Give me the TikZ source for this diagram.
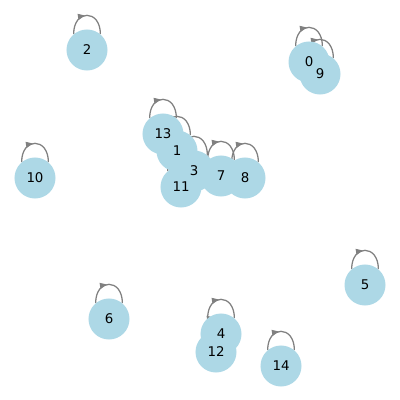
\documentclass[tikz,border=0pt]{standalone}
\usepackage{fontspec}
\setmainfont{DejaVu Sans}
\usetikzlibrary{arrows.meta, decorations.markings}
\definecolor{nodeblue}{HTML}{ADD8E6}
\definecolor{loopgray}{HTML}{808080}
\pgfdeclarelayer{background}
\pgfsetlayers{background,main}

\begin{document}
\begin{tikzpicture}[
    x=0.025cm, y=-0.025cm,
    vertex/.style={
        circle, fill=nodeblue, draw=none, minimum size=1.025cm, inner sep=0pt,
    },
    lab/.style={font=\fontsize{9.5}{11}\selectfont, text=black, inner sep=0pt},
    selfloop/.style={
        loopgray, line width=0.9pt,
        postaction={decorate, decoration={markings,
            mark=at position 0.46 with {\arrow{Triangle[length=5pt, width=4.2pt]}}}},
    },
]
\useasboundingbox (0,0) rectangle (400,400);

% ============================================================ the vertices
\foreach \n/\x/\y in {0/309/62, 1/177/151, 2/87/50, 3/194/171, 4/221/334,
    5/365/285, 6/109/319, 7/221/176, 8/245/178, 9/320/74, 10/35/178,
    11/181/187, 12/216/352, 13/163/134, 14/281/366}{
    \node[vertex] (n\n) at (\x, \y) {};
}

% their numbers, above every disc
\foreach \n in {0,...,14}{
    \node[lab] at (n\n) {\n};
}

% ============================================================ one loop on each, behind them all
\begin{pgfonlayer}{background}
\foreach \n in {0,...,14}{
    \draw[selfloop] (n\n.130) to[out=90, in=90, looseness=2.4] (n\n.50);
}
\end{pgfonlayer}

\end{tikzpicture}
\end{document}
